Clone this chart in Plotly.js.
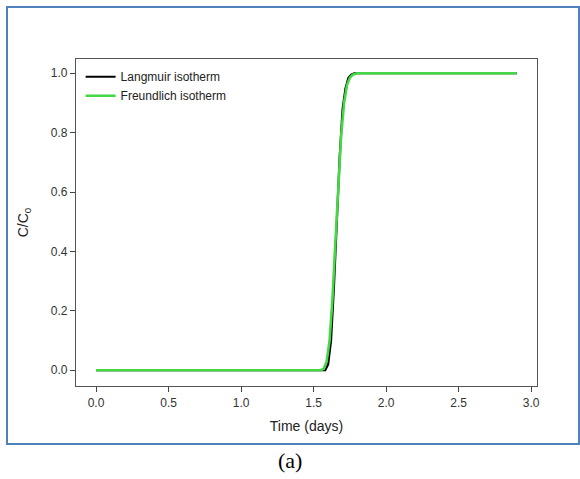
<!DOCTYPE html>
<html>
<head>
<meta charset="utf-8">
<script src="https://cdn.plot.ly/plotly-3.0.1.min.js"></script>
<style>html,body{margin:0;padding:0;background:#fff;}#chart{width:580px;height:479px;}</style>
</head>
<body>
<div id="chart"></div>
<script>
// Langmuir isotherm (black)
const langmuirTime = [0, 1.55, 1.58, 1.60, 1.62, 1.64, 1.66, 1.68, 1.70, 1.72, 1.74, 1.76, 1.78, 1.80, 1.85, 2.9];
const langmuirC = [0, 0, 0.0, 0.02, 0.10, 0.28, 0.50, 0.72, 0.88, 0.95, 0.985, 0.995, 1.0, 1.0, 1.0, 1.0];
// Freundlich isotherm (green)
const freundlichTime = [0, 1.55, 1.57, 1.59, 1.61, 1.63, 1.65, 1.67, 1.69, 1.71, 1.73, 1.75, 1.77, 1.80, 1.84, 2.9];
const freundlichC = [0, 0, 0.005, 0.03, 0.10, 0.24, 0.43, 0.62, 0.79, 0.90, 0.96, 0.985, 0.995, 1.0, 1.0, 1.0];

const xTicks = [0, 0.5, 1.0, 1.5, 2.0, 2.5, 3.0];
const xTickLabels = ['0.0', '0.5', '1.0', '1.5', '2.0', '2.5', '3.0'];
const yTicks = [0, 0.2, 0.4, 0.6, 0.8, 1.0];
const yTickLabels = ['0.0', '0.2', '0.4', '0.6', '0.8', '1.0'];

const traces = [
  {x: langmuirTime, y: langmuirC, mode: 'lines', name: 'Langmuir isotherm',
   line: {color: '#000000', width: 2.2}},
  {x: freundlichTime, y: freundlichC, mode: 'lines', name: 'Freundlich isotherm',
   line: {color: '#45d845', width: 2.6}}
];

const PL = 76, PR = 537, PT = 59, PB = 386;
const px = v => (v - PL) / (PR - PL);
const py = v => (PB - v) / (PB - PT);

const layout = {
  width: 580, height: 479,
  margin: {l: PL, r: 580 - PR, t: PT, b: 479 - PB},
  paper_bgcolor: '#ffffff', plot_bgcolor: '#ffffff',
  font: {family: 'Liberation Sans, Arial, sans-serif', color: '#222', size: 12},
  showlegend: true,
  legend: {x: 0.01, y: 0.99, xanchor: 'left', yanchor: 'top', bgcolor: 'rgba(0,0,0,0)',
           font: {size: 12, color: '#222'}, tracegroupgap: 0, itemwidth: 30},
  xaxis: {range: [-0.138, 3.04], tickvals: xTicks, ticktext: xTickLabels,
          ticks: 'outside', ticklen: 5, tickcolor: '#444', showgrid: false, zeroline: false,
          showline: true, linecolor: '#555', linewidth: 1.2, mirror: true,
          tickfont: {size: 12, color: '#333'},
          title: {text: 'Time (days)', font: {size: 14, color: '#222'}, standoff: 12}},
  yaxis: {range: [-0.053, 1.048], tickvals: yTicks, ticktext: yTickLabels,
          ticks: 'outside', ticklen: 5, tickcolor: '#444', showgrid: false, zeroline: false,
          showline: true, linecolor: '#555', linewidth: 1.2, mirror: true,
          tickfont: {size: 12, color: '#333'},
          title: {text: 'C/C<sub>0</sub>', font: {size: 14, color: '#222'}, standoff: 18}},
  shapes: [
    {type: 'rect', xref: 'paper', yref: 'paper', x0: px(7), x1: px(579), y0: py(444), y1: py(7),
     line: {color: '#4f81bd', width: 2}, fillcolor: 'rgba(0,0,0,0)', layer: 'below'}
  ],
  annotations: [
    {text: '(a)', xref: 'paper', yref: 'paper', x: px(290), y: py(460), xanchor: 'center', yanchor: 'middle',
     showarrow: false, font: {family: 'Liberation Serif, DejaVu Serif, serif', size: 22, color: '#000'}}
  ]
};

Plotly.newPlot('chart', traces, layout, {displayModeBar: false, staticPlot: true});
</script>
</body>
</html>
